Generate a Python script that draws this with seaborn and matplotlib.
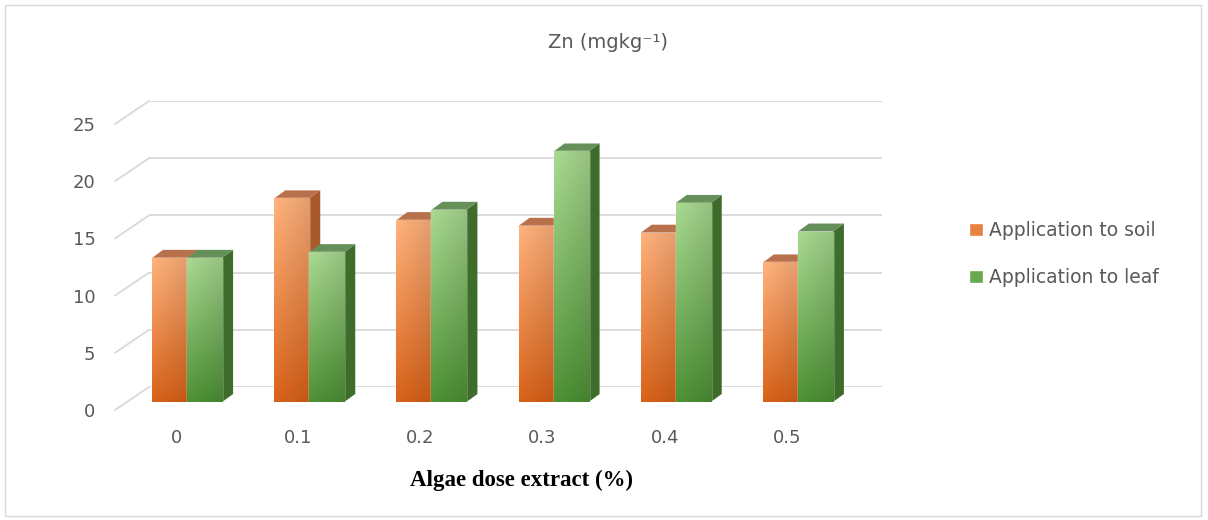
import numpy as np
import pandas as pd
import matplotlib
matplotlib.use("Agg")
import matplotlib.pyplot as plt
import seaborn as sns
from matplotlib.patches import Polygon, Rectangle, Patch
from matplotlib.lines import Line2D
from matplotlib.colors import to_rgb

# === Data ===
doses = ["0", "0.1", "0.2", "0.3", "0.4", "0.5"]
soil_zn = [12.6, 17.8, 15.9, 15.4, 14.8, 12.2]
leaf_zn = [12.6, 13.1, 16.8, 21.9, 17.4, 14.9]
series = ["Application to soil", "Application to leaf"]
y_ticks = [0, 5, 10, 15, 20, 25]

# === Styling ===
W, H = 1208, 520
TEXT = "#595959"
GRID = "#d9d9d9"
FRONT = {"soil": ("#f7ac78", "#d25f18"), "leaf": ("#a3d28c", "#4b8d33")}
SIDE = {"soil": "#a85a2c", "leaf": "#3e6d2b"}
TOP = {"soil": "#b9714c", "leaf": "#66905a"}
LEGEND = {"soil": "#e8803f", "leaf": "#6aa84f"}
BAR_DEPTH = (11, 8)       # px, depth of each 3d bar
WALL_DEPTH = (34, -23)    # px, shift of back wall from front plane
BAR_SHIFT = (11, -8)      # px, shift of bar fronts from front plane

sns.set_style("white")
plt.rcParams["font.family"] = ["DejaVu Sans"]

fig = plt.figure(figsize=(W / 100, H / 100), dpi=100)


def px_axes(left, top, width, height, z):
    ax = fig.add_axes([left / W, 1 - (top + height) / H, width / W, height / H], zorder=z)
    ax.set_xlim(-0.5, len(doses) - 0.5)
    ax.set_ylim(0, 25)
    ax.patch.set_alpha(0)
    for s in ax.spines.values():
        s.set_visible(False)
    return ax


FL, FT, FW, FH = 115, 124, 733, 286
ax_back = px_axes(FL + WALL_DEPTH[0], FT + WALL_DEPTH[1], FW, FH, 0)
ax_bar = px_axes(FL + BAR_SHIFT[0], FT + BAR_SHIFT[1], FW, FH, 1)
ax_front = px_axes(FL, FT, FW, FH, 2)

# back wall gridlines
ax_back.set_yticks(y_ticks)
ax_back.set_xticks([])
ax_back.tick_params(left=False, labelleft=False)
ax_back.yaxis.grid(True, color=GRID, lw=1.3)
ax_back.set_ylim(0, 25)

# diagonal lines on the side wall
for v in y_ticks:
    x0, y0 = ax_front.transData.transform((-0.5, v))
    x1, y1 = ax_back.transData.transform((-0.5, v))
    fig.add_artist(Line2D([x0 / W, x1 / W], [y0 / H, y1 / H],
                          transform=fig.transFigure, color=GRID, lw=1.3))

# bars
df = pd.DataFrame({
    "dose": doses * 2,
    "zn": soil_zn + leaf_zn,
    "application": [series[0]] * len(doses) + [series[1]] * len(doses),
})
sns.barplot(data=df, x="dose", y="zn", hue="application", order=doses,
            hue_order=series, palette=[LEGEND["soil"], LEGEND["leaf"]],
            width=0.573, saturation=1, legend=False, ax=ax_bar)
ax_bar.set_xlabel("")
ax_bar.set_ylabel("")
ax_bar.set_xticks([])
ax_bar.set_yticks([])

ddx = BAR_DEPTH[0] / (FW / len(doses))
ddy = BAR_DEPTH[1] / (FH / 25)

bars = sorted(ax_bar.patches, key=lambda p: p.get_x())
for i, p in enumerate(bars):
    kind = "soil" if i % 2 == 0 else "leaf"
    z = 2 if kind == "soil" else 4
    x0, w, h = p.get_x(), p.get_width(), p.get_height()
    x1 = x0 + w
    ax_bar.add_patch(Polygon([(x1, 0), (x1 + ddx, ddy), (x1 + ddx, h + ddy), (x1, h)],
                             closed=True, facecolor=SIDE[kind], edgecolor="none", zorder=z))
    ax_bar.add_patch(Polygon([(x0, h), (x0 + ddx, h + ddy), (x1 + ddx, h + ddy), (x1, h)],
                             closed=True, facecolor=TOP[kind], edgecolor="none", zorder=z))
    # front face gradient, clipped to the seaborn bar
    top_c, bot_c = np.array(to_rgb(FRONT[kind][0])), np.array(to_rgb(FRONT[kind][1]))
    tv = np.linspace(0, 1, 80)[:, None, None]
    sh = np.linspace(0, 1, 24)[None, :, None]
    img = np.clip((top_c * (1 - tv) + bot_c * tv) * (1.04 - 0.12 * sh), 0, 1)
    p.set_facecolor("none")
    p.set_zorder(z + 1)
    im = ax_bar.imshow(img, extent=[x0, x1, 0, h], aspect="auto", zorder=z + 1,
                       interpolation="bilinear")
    im.set_clip_path(p)
ax_bar.set_xlim(-0.5, len(doses) - 0.5)
ax_bar.set_ylim(0, 25)

# front plane: ticks and labels
ax_front.set_xticks(range(len(doses)))
ax_front.set_xticklabels(doses)
ax_front.set_yticks(y_ticks)
ax_front.tick_params(axis="both", length=0, labelsize=13, labelcolor=TEXT)
ax_front.tick_params(axis="x", pad=14)
ax_front.tick_params(axis="y", pad=14)

fig.text(608 / W, 1 - 43 / H, "Zn (mgkg⁻¹)", ha="center", va="center",
         fontsize=14, color=TEXT)
fig.text(522 / W, 1 - 480 / H, "Algae dose extract (%)", ha="center", va="center",
         fontsize=16.5, fontweight="bold", family="Liberation Serif", color="black")

handles = [Patch(facecolor=LEGEND["soil"]), Patch(facecolor=LEGEND["leaf"])]
fig.legend(handles, series, loc="center left", bbox_to_anchor=(952 / W, 1 - 254 / H),
           frameon=False, fontsize=13.5, labelcolor=TEXT, handlelength=0.75,
           handleheight=0.75, handletextpad=0.3, labelspacing=1.5)

fig.patches.append(Rectangle((5 / W, 4 / H), 1196 / W, 511 / H, transform=fig.transFigure,
                             fill=False, edgecolor=GRID, lw=1))

fig.savefig("out.png", dpi=100)
